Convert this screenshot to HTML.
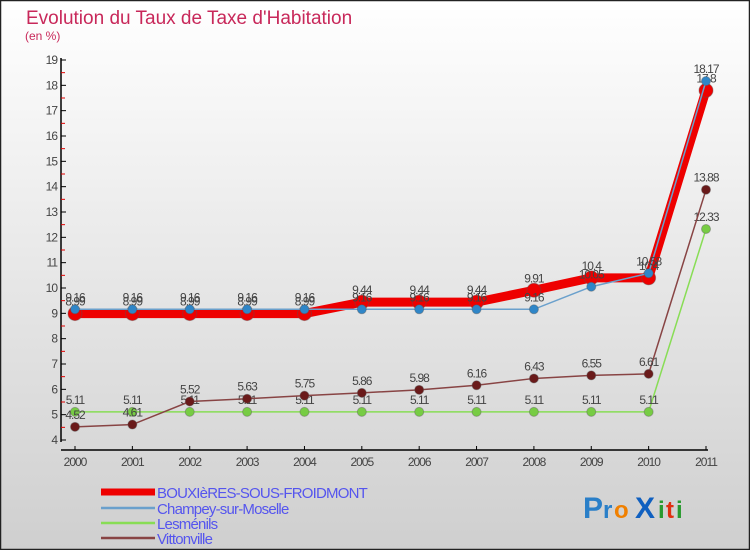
<!DOCTYPE html>
<html><head><meta charset="utf-8"><style>
body{margin:0;width:750px;height:550px;overflow:hidden;font-family:"Liberation Sans",sans-serif}
svg text{font-family:"Liberation Sans",sans-serif}
</style></head><body>
<svg id="chart" width="750" height="550" xmlns="http://www.w3.org/2000/svg">
<defs><linearGradient id="bg" x1="0" y1="0" x2="0" y2="1"><stop offset="0" stop-color="#ffffff"/><stop offset="1" stop-color="#cfcfcf"/></linearGradient></defs>
<rect x="0.5" y="0.5" width="749" height="549" fill="url(#bg)" stroke="#222" stroke-width="1.5"/>
<text x="26" y="24" font-size="19" fill="#c8285a">Evolution du Taux de Taxe d'Habitation</text>
<text x="25" y="40" font-size="12" fill="#c8285a">(en %)</text>
<g id="axes"></g>
<g id="series"></g>
<g id="legend"></g>
<g font-size="30" font-weight="bold">
<text x="583" y="518" fill="#2a7fc8">P</text><text x="603" y="518" fill="#2a7fc8" font-size="24">r</text><text x="614" y="518" fill="#f08000" font-size="24">o</text><text x="635" y="518" fill="#1060c0">X</text><text x="658" y="518" fill="#2a9a30" font-size="24">i</text><text x="666" y="518" fill="#e03010" font-size="24">t</text><text x="676" y="518" fill="#2a9a30" font-size="24">i</text>
</g>
</svg>
<script>
const years=["2000","2001","2002","2003","2004","2005","2006","2007","2008","2009","2010","2011"];
const bouxieres=[8.99,8.99,8.99,8.99,8.99,9.44,9.44,9.44,9.91,10.4,10.4,17.8];
const champey=[9.16,9.16,9.16,9.16,9.16,9.16,9.16,9.16,9.16,10.05,10.58,18.17];
const lesmenils=[5.11,5.11,5.11,5.11,5.11,5.11,5.11,5.11,5.11,5.11,5.11,12.33];
const vittonville=[4.52,4.61,5.52,5.63,5.75,5.86,5.98,6.16,6.43,6.55,6.61,13.88];
const yTicks=[4,5,6,7,8,9,10,11,12,13,14,15,16,17,18,19];
const seriesNames=["BOUXIèRES-SOUS-FROIDMONT","Champey-sur-Moseller".slice(0,19),"Lesménils","Vittonville"];
const NS="http://www.w3.org/2000/svg";
const x=i=>75+i*(706-75)/11;
const y=v=>440-(v-4)*(380/15);
function mk(tag,attrs,parent){const e=document.createElementNS(NS,tag);for(const k in attrs)e.setAttribute(k,attrs[k]);parent.appendChild(e);return e;}
const ax=document.getElementById('axes');
let yl=mk('line',{x1:61,y1:58,x2:61,y2:442,stroke:'#000','stroke-width':1.5},ax);


let xl=mk('line',{x1:61,y1:450,x2:708,y2:450,stroke:'#000','stroke-width':1.5},ax);


yTicks.forEach(t=>{
  mk('line',{x1:61,y1:y(t),x2:66,y2:y(t),stroke:'#000'},ax);
  if(t<19)mk('line',{x1:61,y1:y(t+0.5),x2:65,y2:y(t+0.5),stroke:'#e00000'},ax);
  const tx=mk('text',{x:57,y:y(t)+4,'font-size':12,fill:'#444','text-anchor':'end','letter-spacing':'-1'},ax);
  tx.textContent=t;
  
  
});
years.forEach((yr,i)=>{
  mk('line',{x1:x(i),y1:446,x2:x(i),y2:450,stroke:'#000'},ax);
  const tx=mk('text',{x:x(i),y:466,'font-size':12,fill:'#444','text-anchor':'middle','letter-spacing':'-1'},ax);
  tx.textContent=yr;
  
  
});
const sg=document.getElementById('series');
const defs=[
 {d:bouxieres,c:'#ee0000',w:9,r:7,pc:'#ee0000',n:'bouxieres'},
 {d:champey,c:'#6aa0cc',w:1.5,r:4.5,pc:'#2f86c8',n:'champey'},
 {d:lesmenils,c:'#88dd55',w:1.5,r:4.5,pc:'#77cc44',n:'lesmenils'},
 {d:vittonville,c:'#884444',w:1.5,r:4.5,pc:'#6a1a1a',n:'vittonville'}];
defs.forEach(s=>{
  const g=mk('g',{},sg);
  
  
  const p=mk('polyline',{points:s.d.map((v,i)=>x(i)+','+y(v)).join(' '),fill:'none',stroke:s.c,'stroke-width':s.w},g);
  
  
  s.d.forEach((v,i)=>{
    const c=mk('circle',{cx:x(i),cy:y(v),r:s.r,fill:s.pc,stroke:'#555','stroke-opacity':0.4},g);
    
    
    const t=mk('text',{x:x(i),y:y(v)-8,'font-size':12,fill:'#444','text-anchor':'middle','letter-spacing':'-1'},g);
    t.textContent=String(v);
    
    
  });
});
const lg=document.getElementById('legend');
const names=["BOUXIèRES-SOUS-FROIDMONT","Champey-sur-Moselle","Lesménils","Vittonville"];
const lys=[492,508,523,538];
defs.forEach((s,i)=>{
  const l=mk('line',{x1:101,y1:lys[i],x2:155,y2:lys[i],stroke:s.c,'stroke-width':i==0?7:2.5},lg);
  
  
  const t=mk('text',{x:157,y:lys[i]+6,'font-size':15,fill:'#5555ee','letter-spacing':'-0.8'},lg);
  t.textContent=names[i];
  
  
});
</script>
</body></html>
